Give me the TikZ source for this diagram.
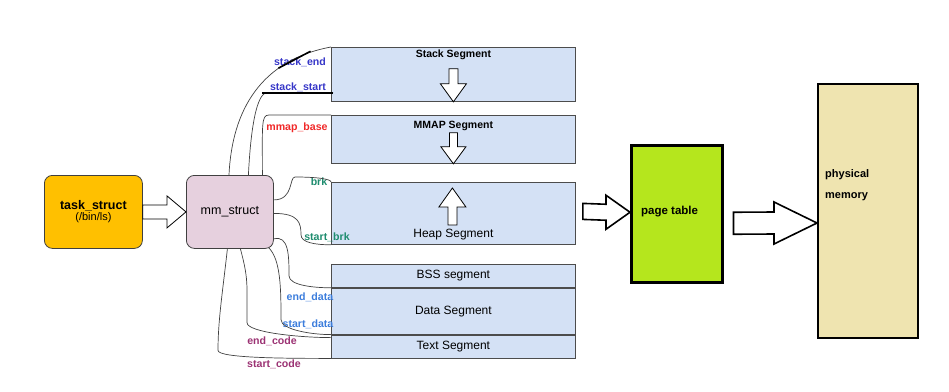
\documentclass[tikz,border=0pt]{standalone}
\usepackage{fontspec}
\setmainfont{Liberation Sans}
\usepackage{xcolor}
\usetikzlibrary{calc, positioning}

\definecolor{segblue}{HTML}{D4E1F5}
\definecolor{taskorange}{HTML}{FFC000}
\definecolor{mmpink}{HTML}{E6D0DE}
\definecolor{pagegreen}{HTML}{B5E61D}
\definecolor{physbeige}{HTML}{EFE4B0}
\definecolor{lblstack}{HTML}{3737C8}
\definecolor{lblmmap}{HTML}{F02828}
\definecolor{lblbrk}{HTML}{1E8C6E}
\definecolor{lbldata}{HTML}{3C7DDC}
\definecolor{lblcode}{HTML}{9B3273}

\begin{document}
\begin{tikzpicture}[x=1pt, y=-1pt,
    seg/.style={draw=black!70, line width=0.8pt, fill=segblue, anchor=north west,
        minimum width=244pt, inner sep=0pt, font=\fontsize{12}{14}\selectfont},
    procbox/.style={draw=black!75, line width=0.8pt, rounded corners=8pt,
        minimum height=73pt, anchor=north west, inner sep=0pt, align=center},
    link/.style={draw=black!75, line width=0.7pt},
    hollow/.style={draw=black, line width=0.8pt, fill=white, line join=miter},
    fatarrow/.style={draw=black, line width=1.6pt, fill=white, line join=miter},
    fieldlbl/.style={font=\bfseries\fontsize{10.6}{12}\selectfont, inner sep=0pt},
    segtitle/.style={font=\bfseries\fontsize{10.5}{12}\selectfont, inner sep=0pt},
]
    \useasboundingbox (0,0) rectangle (949,391);

    % Process side
    \node[procbox, fill=taskorange, minimum width=98pt] (task) at (44,175)
        {{\bfseries\fontsize{12.5}{14}\selectfont task\_struct}\\[-1pt]
         {\fontsize{11}{13}\selectfont (/bin/ls)}};
    \node[procbox, fill=mmpink, minimum width=87pt] (mm) at (186,175)
        {\fontsize{12.5}{15}\selectfont mm\_struct};

    % Virtual address space
    \node[seg, minimum height=54pt] (stack) at (331,47) {};
    \node[seg, minimum height=48pt] (mmap) at (331,115) {};
    \node[seg, minimum height=62pt] (heap) at (331,182) {};
    \node[seg, minimum height=23pt] (bss) at (331,264) {BSS segment};
    \node[seg, minimum height=46pt] (data) at (bss.south west) {Data Segment};
    \node[seg, minimum height=23pt] (text) at (data.south west) {Text Segment};

    \node[segtitle] (stacktitle) at ($(stack.north)+(0,8)$) {Stack Segment};
    \node[segtitle] (mmaptitle) at ($(mmap.north)+(0,11)$) {MMAP Segment};
    \node[font=\fontsize{12}{14}\selectfont, inner sep=0pt] (heaptitle)
        at ($(heap.south)+(0,-10)$) {Heap Segment};

    % Growth direction of stack, mmap and heap
    \draw[hollow] ($(stack.south)+(-4.5,-33)$) -- ++(9,0) -- ++(0,15) -- ++(8.5,0)
        -- (stack.south) -- ++(-13,-18) -- ++(8.5,0) -- cycle;
    \draw[hollow] ($(mmap.south)+(-4,-31)$) -- ++(8,0) -- ++(0,14) -- ++(8.5,0)
        -- (mmap.south) -- ++(-12.5,-17) -- ++(8.5,0) -- cycle;
    \draw[hollow] ($(heap.north)+(-5.5,43)$) -- ++(9,0) -- ++(0,-18) -- ++(9,0)
        -- ($(heap.north)+(-1,6)$) -- ++(-13.5,19) -- ++(9,0) -- cycle;

    % Page table and physical memory
    \node[draw, line width=2.5pt, fill=pagegreen, anchor=north west,
        minimum width=91pt, minimum height=137pt] (page) at (630,144) {};
    \node[anchor=west, inner sep=0pt, font=\bfseries\fontsize{11.5}{13}\selectfont]
        (pagetxt) at ($(page.west)+(11,-2)$) {page table};
    \node[draw, line width=2pt, fill=physbeige, anchor=north west,
        minimum width=100pt, minimum height=254pt] (phys) at (817,83) {};
    \node[anchor=base west, inner sep=0pt, font=\bfseries\fontsize{11}{13}\selectfont]
        (physline1) at ($(phys.north west)+(8,94)$) {physical};
    \node[anchor=base west, inner sep=0pt, font=\bfseries\fontsize{11}{13}\selectfont]
        (physline2) at ($(physline1.base west)+(0,21)$) {memory};

    % Block arrows
    \draw[hollow] ($(task.east)+(0,-7)$) -- ($(mm.west)+(-19,-7)$) -- ++(0,-9)
        -- (mm.west) -- ++(-19,16) -- ++(0,-9) -- ($(task.east)+(0,7)$) -- cycle;
    \coordinate (pagetail) at ($(heap.east)+(7,-2)$);
    \coordinate (pagetip) at ($(page.west)+(0,-1.5)$);
    \draw[fatarrow] ($(pagetail)+(0,-8)$) -- ($(pagetip)+(-24,-8)$) -- ++(0,-9)
        -- (pagetip) -- ++(-24,17) -- ++(0,-9) -- ($(pagetail)+(0,8)$) -- cycle;
    \coordinate (phystail) at ($(page.east)+(10,9.5)$);
    \coordinate (phystip) at ($(phys.west)+(0,12)$);
    \draw[fatarrow] ($(phystail)+(0,-11)$) -- ($(phystip)+(-43,-11)$) -- ++(0,-10)
        -- (phystip) -- ++(-43,21) -- ++(0,-10) -- ($(phystail)+(0,11)$) -- cycle;

    % Field labels of mm_struct
    \node[fieldlbl, text=lblstack] (lstackend) at (300,62) {stack\_end};
    \node[fieldlbl, text=lblstack] (lstackstart) at (298,87) {stack\_start};
    \node[fieldlbl, text=lblmmap] (lmmap) at (297,128) {mmap\_base};
    \node[fieldlbl, text=lblbrk] (lbrk) at (319,182) {brk};
    \node[fieldlbl, text=lblbrk] (lstartbrk) at (327,237) {start\_brk};
    \node[fieldlbl, text=lbldata] (lenddata) at (310,297) {end\_data};
    \node[fieldlbl, text=lbldata] (lstartdata) at (308,324) {start\_data};
    \node[fieldlbl, text=lblcode] (lendcode) at (272,341) {end\_code};
    \node[fieldlbl, text=lblcode] (lstartcode) at (274,364) {start\_code};

    % Fields pointing at segment boundaries
    \coordinate (stackstartpt) at ($(stack.south west)+(2,-9)$);
    \draw[link] ($(mm.north west)+(43,0)$) .. controls +(3,-65) and +(-70,13) .. (stack.north west)
        coordinate[pos=0.72] (markA) coordinate[pos=0.88] (markB);
    \draw[line width=1.6pt] ($(markA)+(-3,2)$) -- ($(markB)+(3,-2)$);
    \draw[link] ($(mm.north)+(18.5,0)$) .. controls +(3,-60) and +(-8,0) ..
        ($(stackstartpt)+(-66,0)$) -- (stackstartpt);
    \draw[line width=1.6pt] ($(stackstartpt)+(-71,0)$) -- (stackstartpt);
    \draw[link] ($(mm.north)+(32.5,0)$) .. controls +(0,-50) and +(-8,0) ..
        ($(mmap.north west)+(-62,0)$) -- (mmap.north west);
    \draw[link] ($(mm.east)+(0,-12)$) .. controls +(20,0) and +(-6,0) ..
        ($(heap.north west)+(-36,-5)$) .. controls +(22,0) and +(0,-3) .. (heap.north west);
    \draw[link] ($(mm.east)+(0,1.5)$) .. controls +(25,0) and +(0,-12) ..
        ($(heap.south west)+(-30,-10)$) .. controls +(0,8) and +(-15,0) .. (heap.south west);
    \draw[link] ($(mm.east)+(0,27)$) .. controls +(15,-4) and +(0,-20) ..
        ($(data.north west)+(-42,-12)$) .. controls +(0,10) and +(-15,0) .. (data.north west);
    \draw[link] ($(mm.south east)+(-5,-1)$) .. controls +(12,12) and +(0,-30) ..
        ($(data.south west)+(-50,-15)$) .. controls +(0,10) and +(-20,0) .. (data.south west);
    \draw[link] ($(mm.south)+(10.5,0)$) .. controls +(8,30) and +(0,-40) ..
        ($(text.north west)+(-84,-12)$) .. controls +(0,10) and +(-30,0) .. ($(text.north west)+(0,3)$);
    \draw[link] ($(mm.south)+(-2.5,0)$) .. controls +(-5,45) and +(0,-30) ..
        ($(text.south west)+(-113,-8)$) .. controls +(0,8) and +(-40,0) .. (text.south west);
\end{tikzpicture}
\end{document}
